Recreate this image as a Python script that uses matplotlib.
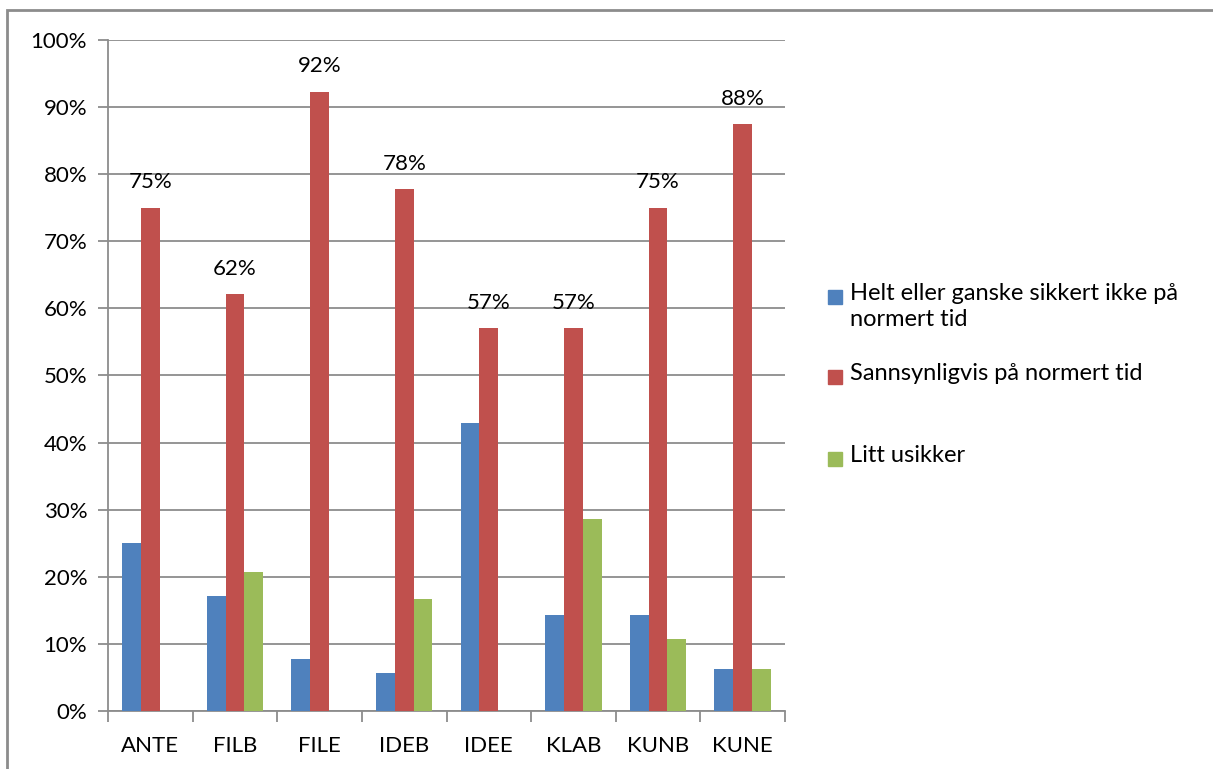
import numpy as np
import matplotlib.pyplot as plt
from matplotlib.patches import Rectangle

categories = ["ANTE", "FILB", "FILE", "IDEB", "IDEE", "KLAB", "KUNB", "KUNE"]
ikke_normert = [25.0, 17.2, 7.7, 5.6, 42.9, 14.3, 14.3, 6.25]
sannsynlig = [75.0, 62.1, 92.3, 77.8, 57.1, 57.1, 75.0, 87.5]
usikker = [0.0, 20.7, 0.0, 16.7, 0.0, 28.6, 10.7, 6.25]
series_names = ["Helt eller ganske sikkert ikke på\nnormert tid",
                "Sannsynligvis på normert tid",
                "Litt usikker"]
colors = ["#4F81BD", "#C0504D", "#9BBB59"]

plt.rcParams['font.family'] = ['Lato', 'DejaVu Sans']
fs = 16

fig = plt.figure(figsize=(12.13, 7.69), dpi=100)
W, H = 1213, 769
ax = fig.add_axes([108 / W, 1 - 711 / H, (785 - 108) / W, (711 - 40) / H])

x = np.arange(len(categories))
bw = 1 / 4.5
for i, vals in enumerate([ikke_normert, sannsynlig, usikker]):
    ax.bar(x + (i - 1) * bw, vals, width=bw, color=colors[i], zorder=3)

# labels on the middle series
for xi, v in zip(x, sannsynlig):
    ax.annotate(f"{v:.0f}%", (xi, v), xytext=(0, 11), textcoords="offset points",
                ha="center", va="bottom", fontsize=fs)

ax.set_xlim(-0.5, len(categories) - 0.5)
ax.set_ylim(0, 100)
ax.set_yticks(np.arange(0, 101, 10))
ax.set_yticklabels([f"{t}%" for t in range(0, 101, 10)], fontsize=fs)
ax.yaxis.grid(True, color="#8c8c8c", linewidth=1.3, zorder=0)
ax.set_xticks(x)
ax.set_xticklabels(categories, fontsize=fs)
ax.tick_params(axis="x", length=0, pad=18)
ax.tick_params(axis="y", length=7, width=1.3, color="#8c8c8c", pad=8)
ax.set_xticks(np.arange(-0.5, len(categories)), minor=True)
ax.tick_params(axis="x", which="minor", length=8, width=1.3, color="#8c8c8c")
for s in ["top", "right"]:
    ax.spines[s].set_visible(False)
for s in ["left", "bottom"]:
    ax.spines[s].set_color("#8c8c8c")
    ax.spines[s].set_linewidth(1.3)

# legend
leg_y = [297, 377, 459]
for c, name, y in zip(colors, series_names, leg_y):
    fig.patches.append(Rectangle((828 / W, 1 - (y + 7) / H), 14 / W, 14 / H,
                                 transform=fig.transFigure, color=c))
    fig.text(850 / W, 1 - (y - 14) / H, name, fontsize=fs + 1, va="top", ha="left",
             linespacing=1.3)

# chart frame
fig.patches.append(Rectangle((7 / W, -0.05), 1.2, 1 - 10 / H + 0.05,
                             transform=fig.transFigure, fill=False,
                             edgecolor="#8c8c8c", linewidth=2))

fig.savefig("out.png", dpi=100)
